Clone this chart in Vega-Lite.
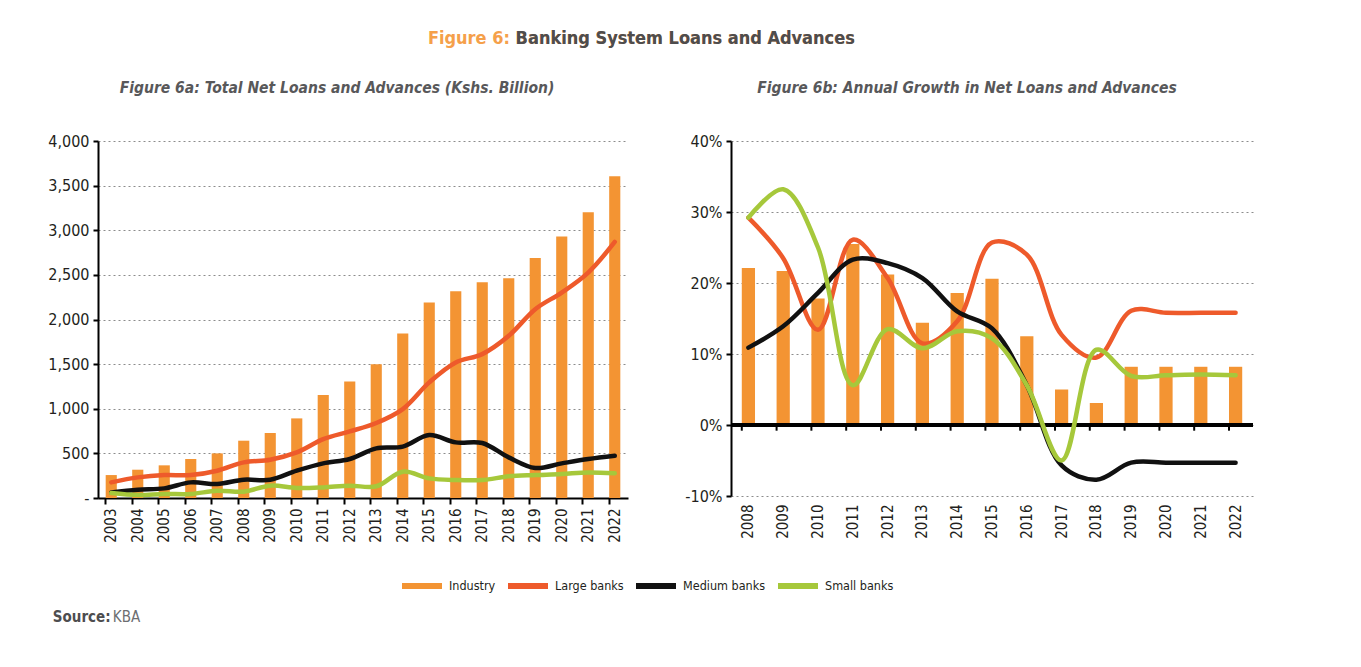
{
  "$schema": "https://vega.github.io/schema/vega-lite/v6.json",
  "background": "white",
  "padding": {"left": 47, "top": 29, "right": 10, "bottom": 10},
  "config": {
    "font": "DejaVu Sans Condensed, DejaVu Sans, sans-serif",
    "view": {"stroke": null},
    "axis": {
      "labelFont": "DejaVu Sans Condensed, DejaVu Sans, sans-serif",
      "labelFontSize": 16,
      "labelColor": "#231f20",
      "title": null,
      "gridColor": "#8c8c8c",
      "gridDash": [2, 3],
      "gridWidth": 1,
      "domainColor": "#000000",
      "domainWidth": 2,
      "tickColor": "#000000",
      "tickWidth": 2
    },
    "title": {"font": "DejaVu Sans Condensed, DejaVu Sans, sans-serif", "subtitleFont": "DejaVu Sans Condensed, DejaVu Sans, sans-serif"}
  },
  "datasets": {
    "a": [
      {"year": "2003", "Industry": 257, "Large banks": 175, "Medium banks": 63, "Small banks": 56},
      {"year": "2004", "Industry": 317, "Large banks": 231, "Medium banks": 93, "Small banks": 34},
      {"year": "2005", "Industry": 366, "Large banks": 257, "Medium banks": 108, "Small banks": 45},
      {"year": "2006", "Industry": 437, "Large banks": 257, "Medium banks": 175, "Small banks": 45},
      {"year": "2007", "Industry": 500, "Large banks": 306, "Medium banks": 157, "Small banks": 82},
      {"year": "2008", "Industry": 642, "Large banks": 399, "Medium banks": 205, "Small banks": 71},
      {"year": "2009", "Industry": 728, "Large banks": 429, "Medium banks": 205, "Small banks": 138},
      {"year": "2010", "Industry": 892, "Large banks": 511, "Medium banks": 306, "Small banks": 112},
      {"year": "2011", "Industry": 1153, "Large banks": 660, "Medium banks": 388, "Small banks": 119},
      {"year": "2012", "Industry": 1306, "Large banks": 746, "Medium banks": 437, "Small banks": 138},
      {"year": "2013", "Industry": 1500, "Large banks": 840, "Medium banks": 556, "Small banks": 131},
      {"year": "2014", "Industry": 1843, "Large banks": 996, "Medium banks": 575, "Small banks": 295},
      {"year": "2015", "Industry": 2190, "Large banks": 1295, "Medium banks": 705, "Small banks": 220},
      {"year": "2016", "Industry": 2317, "Large banks": 1519, "Medium banks": 623, "Small banks": 201},
      {"year": "2017", "Industry": 2418, "Large banks": 1612, "Medium banks": 616, "Small banks": 201},
      {"year": "2018", "Industry": 2463, "Large banks": 1817, "Medium banks": 455, "Small banks": 243},
      {"year": "2019", "Industry": 2690, "Large banks": 2116, "Medium banks": 336, "Small banks": 257},
      {"year": "2020", "Industry": 2929, "Large banks": 2302, "Medium banks": 388, "Small banks": 269},
      {"year": "2021", "Industry": 3201, "Large banks": 2526, "Medium banks": 437, "Small banks": 287},
      {"year": "2022", "Industry": 3604, "Large banks": 2869, "Medium banks": 474, "Small banks": 276}
    ],
    "b": [
      {"year": "2008", "Industry": 22.1, "Large banks": 29.2, "Medium banks": 10.9, "Small banks": 29.2},
      {"year": "2009", "Industry": 21.7, "Large banks": 23.5, "Medium banks": 13.9, "Small banks": 33.2},
      {"year": "2010", "Industry": 17.8, "Large banks": 13.4, "Medium banks": 18.6, "Small banks": 25.0},
      {"year": "2011", "Industry": 25.5, "Large banks": 26.1, "Medium banks": 23.3, "Small banks": 5.6},
      {"year": "2012", "Industry": 21.2, "Large banks": 20.7, "Medium banks": 22.8, "Small banks": 13.5},
      {"year": "2013", "Industry": 14.4, "Large banks": 11.5, "Medium banks": 20.7, "Small banks": 10.8},
      {"year": "2014", "Industry": 18.6, "Large banks": 14.6, "Medium banks": 16.0, "Small banks": 13.2},
      {"year": "2015", "Industry": 20.6, "Large banks": 25.7, "Medium banks": 13.6, "Small banks": 12.2},
      {"year": "2016", "Industry": 12.5, "Large banks": 24.0, "Medium banks": 5.6, "Small banks": 5.6},
      {"year": "2017", "Industry": 5.0, "Large banks": 12.7, "Medium banks": -5.7, "Small banks": -5.0},
      {"year": "2018", "Industry": 3.1, "Large banks": 9.5, "Medium banks": -7.7, "Small banks": 10.6},
      {"year": "2019", "Industry": 8.2, "Large banks": 16.1, "Medium banks": -5.3, "Small banks": 6.9},
      {"year": "2020", "Industry": 8.2, "Large banks": 15.8, "Medium banks": -5.3, "Small banks": 7.0},
      {"year": "2021", "Industry": 8.2, "Large banks": 15.8, "Medium banks": -5.3, "Small banks": 7.1},
      {"year": "2022", "Industry": 8.2, "Large banks": 15.8, "Medium banks": -5.3, "Small banks": 7.0}
    ]
  },
  "title": {
    "text": "Source:",
    "subtitle": "\u200b\u00a0\u00a0\u00a0\u00a0\u00a0\u00a0\u00a0\u00a0\u00a0\u00a0\u00a0\u00a0\u00a0\u00a0KBA",
    "orient": "bottom",
    "anchor": "start",
    "align": "left",
    "fontSize": 15,
    "fontWeight": "bold",
    "color": "#4d4d4f",
    "subtitleFontSize": 15,
    "subtitleFontWeight": "normal",
    "subtitleColor": "#6d6e71",
    "subtitlePadding": -15,
    "dx": 5,
    "offset": 12
  },
  "vconcat": [
    {
      "title": {
        "text": "Figure 6: Banking System Loans and Advances",
        "subtitle": "Banking System Loans and Advances",
        "anchor": "start",
        "align": "right",
        "dx": 807,
        "fontSize": 18,
        "fontWeight": "bold",
        "color": "#f5a04a",
        "subtitleFontSize": 18,
        "subtitleFontWeight": "bold",
        "subtitleColor": "#4d4d4f",
        "subtitlePadding": -18,
        "offset": 33
      },
      "spacing": 56,
      "hconcat": [
        {
          "width": 530,
          "height": 357,
          "title": {
            "text": "Figure 6a: Total Net Loans and Advances (Kshs. Billion)",
            "fontSize": 15.5,
            "fontWeight": "bold",
            "fontStyle": "italic",
            "color": "#58585a",
            "offset": 37,
            "dx": -26
          },
          "data": {"name": "a"},
          "transform": [
            {"fold": ["Industry", "Large banks", "Medium banks", "Small banks"], "as": ["series", "value"]}
          ],
          "encoding": {
            "x": {
              "field": "year",
              "type": "ordinal",
              "scale": {"paddingInner": 0.58},
              "axis": {"labelAngle": 270, "labelFontSize": 15, "bandPosition": 0, "tickSize": 6, "labelPadding": 4, "labelBaseline": "middle"}
            },
            "y": {
              "field": "value",
              "type": "quantitative",
              "scale": {"domain": [0, 4000]},
              "axis": {
                "values": [0, 500, 1000, 1500, 2000, 2500, 3000, 3500, 4000],
                "labelExpr": "datum.value == 0 ? '-' : format(datum.value, ',')",
                "tickSize": 5,
                "labelPadding": 4
              }
            },
            "color": {
              "field": "series",
              "type": "nominal",
              "scale": {
                "domain": ["Industry", "Large banks", "Medium banks", "Small banks"],
                "range": ["#f39433", "#ee5a2b", "#111111", "#a6c83b"]
              },
              "legend": {
                "orient": "none",
                "legendX": 301,
                "legendY": 422,
                "direction": "horizontal",
                "title": null,
                "symbolType": "stroke",
                "symbolStrokeWidth": 6,
                "symbolSize": 1600,
                "labelFontSize": 12.5,
                "labelColor": "#231f20",
                "labelOffset": 4,
                "columnPadding": 0,
                "encode": {"symbols": {"update": {"stroke": {"scale": "color", "field": "value"}, "strokeWidth": {"value": 6}}}}
              }
            }
          },
          "layer": [
            {
              "transform": [{"filter": "datum.series == 'Industry'"}],
              "mark": {"type": "bar"}
            },
            {
              "transform": [{"filter": "datum.series != 'Industry'"}],
              "mark": {"type": "line", "interpolate": "catmull-rom", "strokeWidth": 4.5, "strokeCap": "round"}
            }
          ]
        },
        {
          "width": 522,
          "height": 355,
          "title": {
            "text": "Figure 6b: Annual Growth in Net Loans and Advances",
            "fontSize": 15.5,
            "fontWeight": "bold",
            "fontStyle": "italic",
            "color": "#58585a",
            "offset": 37,
            "dx": -25
          },
          "data": {"name": "b"},
          "transform": [
            {"fold": ["Industry", "Large banks", "Medium banks", "Small banks"], "as": ["series", "value"]}
          ],
          "layer": [
            {
              "transform": [{"filter": "datum.series == 'Industry'"}],
              "mark": {"type": "bar"},
              "encoding": {
                "x": {
                  "field": "year",
                  "type": "ordinal",
                  "scale": {"paddingInner": 0.62},
                  "axis": {"labelAngle": 270, "labelFontSize": 15, "domain": false, "ticks": false, "labelPadding": 8, "labelBaseline": "middle"}
                },
                "y": {
                  "field": "value",
                  "type": "quantitative",
                  "scale": {"domain": [-10, 40]},
                  "axis": {
                    "values": [-10, -5, 0, 5, 10, 15, 20, 25, 30, 35, 40],
                    "labelExpr": "datum.value + '%'",
                    "tickSize": 5,
                    "labelPadding": 4
                  }
                },
                "color": {"field": "series", "type": "nominal"}
              }
            },
            {
              "transform": [{"filter": "datum.series == 'Industry'"}],
              "mark": {"type": "rule", "color": "#000000", "strokeWidth": 2},
              "encoding": {
                "x": {"field": "year", "type": "ordinal", "bandPosition": 0},
                "y": {"datum": 0},
                "y2": {"datum": -0.8}
              }
            },
            {
              "mark": {"type": "rule", "color": "#000000", "strokeWidth": 2.5},
              "encoding": {"y": {"datum": 0}}
            },
            {
              "transform": [{"filter": "datum.series != 'Industry'"}],
              "mark": {"type": "line", "interpolate": "catmull-rom", "strokeWidth": 4.5, "strokeCap": "round"},
              "encoding": {
                "x": {"field": "year", "type": "ordinal"},
                "y": {"field": "value", "type": "quantitative"},
                "color": {"field": "series", "type": "nominal"}
              }
            }
          ]
        }
      ]
    }
  ]
}
